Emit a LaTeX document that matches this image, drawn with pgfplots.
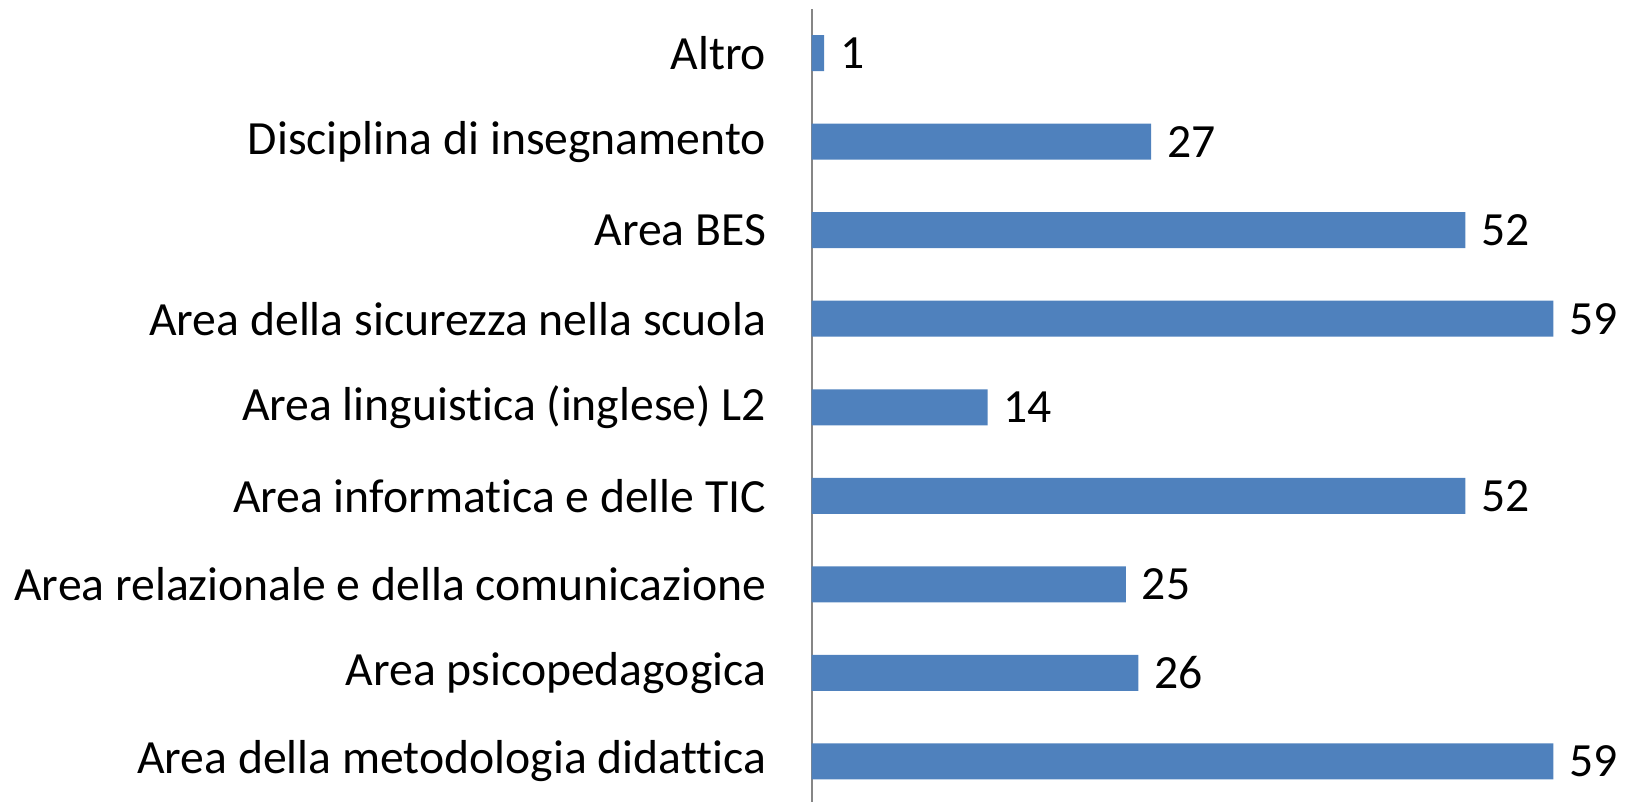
\documentclass[border=0pt]{standalone}
\usepackage{pgfplots}
\pgfplotsset{compat=1.18}
\usepackage{fontspec}
\setmainfont{Carlito}[Ligatures={NoCommon}]
\definecolor{barblue}{HTML}{4F81BD}
\definecolor{axgray}{HTML}{868686}
\begin{document}
\begin{tikzpicture}[x=1pt,y=1pt]
\begin{axis}[
  at={(0,0)}, anchor=south west,
  scale only axis,
  width=222.5pt, height=237.9pt,
  xbar, bar width=10.8pt,
  xmin=0, xmax=59,
  ymin=-0.46, ymax=8.5,
  axis x line=none,
  axis y line*=left,
  y axis line style={axgray, line width=0.6pt},
  ytick={0,...,8},
  yticklabels={Area della metodologia didattica,Area psicopedagogica,Area relazionale e della comunicazione,Area informatica e delle TIC,Area linguistica (inglese) L2,Area della sicurezza nella scuola,Area BES,Disciplina di insegnamento,Altro},
  major tick length=0pt,
  yticklabel style={font=\fontsize{14.3}{17}\selectfont, anchor=east, inner sep=0pt, xshift=-13.5pt},
  nodes near coords,
  every node near coord/.append style={font=\fontsize{14.3}{17}\selectfont, anchor=west, inner sep=0pt, xshift=4.6pt, /pgf/number format/assume math mode=true},
  clip=false,
]
\addplot[fill=barblue, draw=none] coordinates {
(59,0) (26,1) (25,2) (52,3) (14,4) (59,5) (52,6) (27,7) (1,8)
};
\end{axis}
\pgfresetboundingbox
\path[use as bounding box] (-243.5pt,0) rectangle (245.8pt,240.6pt);
\end{tikzpicture}
\end{document}
